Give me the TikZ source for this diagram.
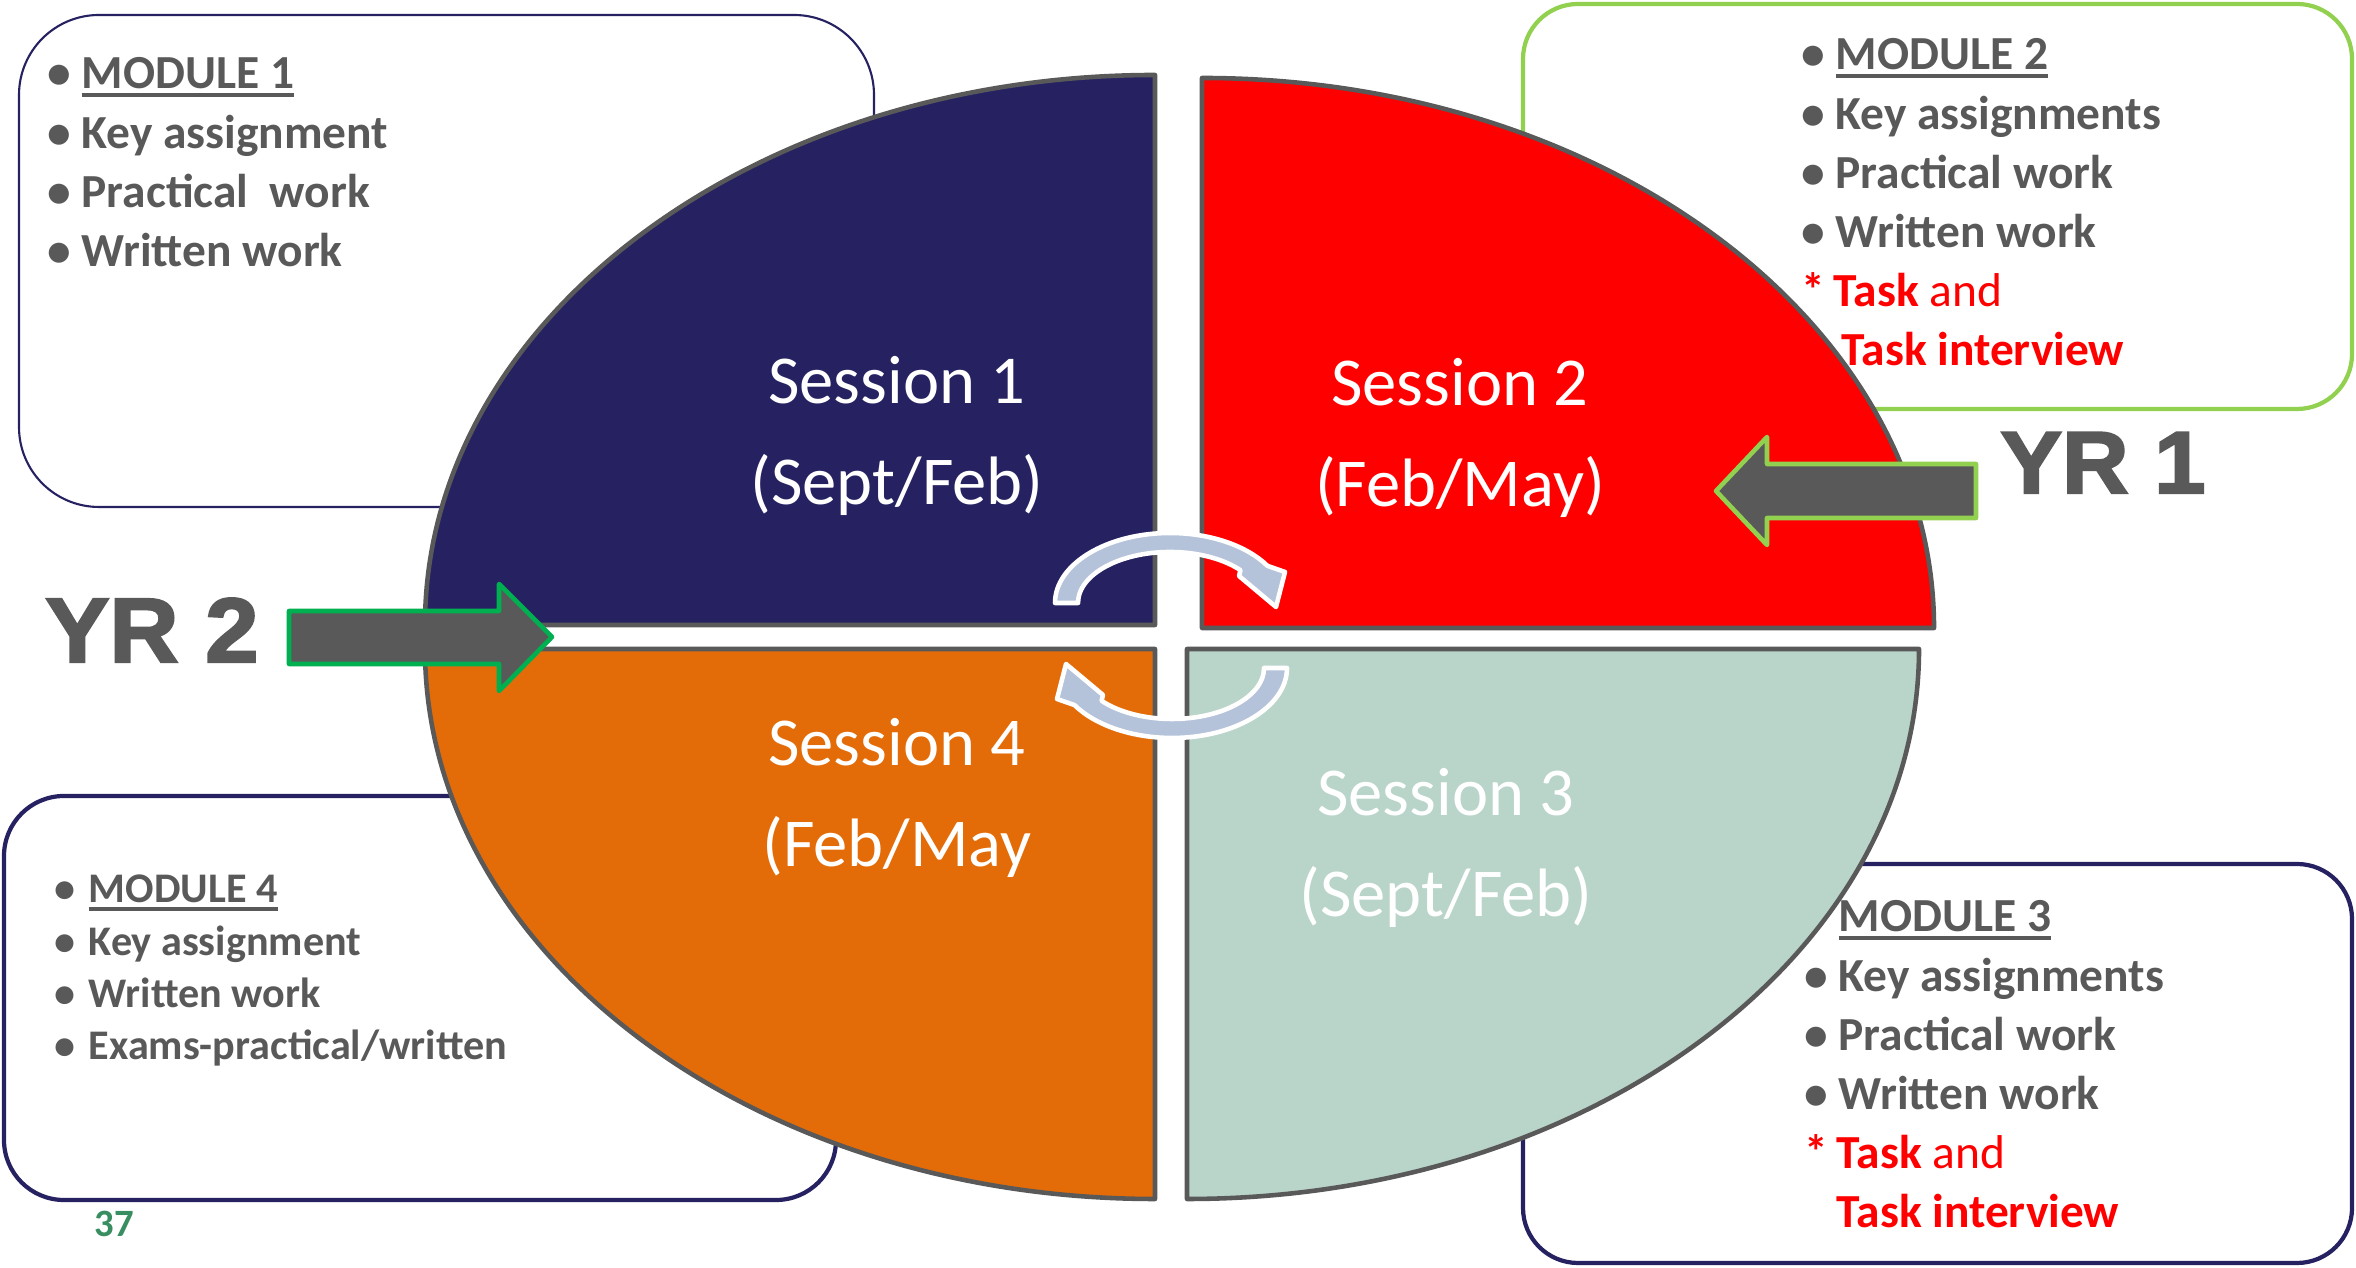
\documentclass[tikz,border=0pt]{standalone}
\usepackage{fontspec}
\setmainfont{Carlito}
\newfontfamily\yrfont[FakeStretch=1.05,BoldFeatures={FakeBold=2.5}]{Liberation Sans}

\definecolor{navy}{RGB}{38,34,98}
\definecolor{slategrey}{RGB}{89,89,89}
\definecolor{sessorange}{RGB}{227,108,9}
\definecolor{sessmint}{RGB}{185,212,201}
\definecolor{leafgreen}{RGB}{146,208,80}
\definecolor{yrtwogreen}{RGB}{0,176,80}
\definecolor{turnblue}{RGB}{180,194,218}
\definecolor{pagegreen}{RGB}{56,142,96}

\newcommand\bul{\makebox[0.34cm][l]{•}}
\newcommand\modline[1]{\setbox0\hbox{#1}\rlap{\rule[-2.3pt]{\wd0}{1.2pt}}\box0}

\begin{document}
\begin{tikzpicture}[
	quarter/.style={draw=slategrey,line width=1.3pt,line join=round},
	listtext/.style={anchor=base west,inner sep=0pt,text=slategrey,font=\bfseries\fontsize{13.5}{16.8}\selectfont},
	sesstext/.style={anchor=base,inner sep=0pt,text=white,font=\fontsize{19.5}{28.5}\selectfont},
	yrtext/.style={anchor=base,inner sep=0pt,text=slategrey,font=\yrfont\bfseries\fontsize{25}{30}\selectfont},
	blockarrow/.style={fill=slategrey,line width=1.3pt,line join=round},
	turnarrow/.style={fill=turnblue,draw=white,line width=1.3pt,line join=round}]
	\useasboundingbox (0,0) rectangle (23.56,12.68);
	% module boxes
	\draw[navy,line width=0.6pt,rounded corners=0.8cm] (0.19,7.61) rectangle (8.74,12.53);
	\draw[leafgreen,line width=1.2pt,rounded corners=0.55cm] (15.23,8.59) rectangle (23.52,12.64);
	\draw[navy,line width=1.2pt,rounded corners=0.55cm] (15.23,0.05) rectangle (23.52,4.04);
	\draw[navy,line width=1.2pt,rounded corners=0.6cm] (0.04,0.68) rectangle (8.36,4.72);
	% sessions
	\draw[quarter,fill=navy] (11.55,6.43) -- (4.25,6.43) arc[start angle=180,end angle=90,x radius=7.3,y radius=5.5] -- cycle;
	\draw[quarter,fill=red] (12.02,6.40) -- (12.02,11.90) arc[start angle=90,end angle=0,x radius=7.32,y radius=5.5] -- cycle;
	\draw[quarter,fill=sessorange] (11.55,6.19) -- (4.25,6.19) arc[start angle=180,end angle=270,x radius=7.3,y radius=5.5] -- cycle;
	\draw[quarter,fill=sessmint] (11.87,6.19) -- (19.19,6.19) arc[start angle=0,end angle=-90,x radius=7.32,y radius=5.5] -- cycle;
	% year arrows
	\draw[blockarrow,draw=yrtwogreen] (2.89,6.57) -- (4.99,6.57) -- (4.99,6.84) -- (5.52,6.31) -- (4.99,5.77) -- (4.99,6.04) -- (2.89,6.04) -- cycle;
	\draw[blockarrow,draw=leafgreen] (19.76,8.04) -- (17.67,8.04) -- (17.67,8.31) -- (17.16,7.77) -- (17.67,7.23) -- (17.67,7.50) -- (19.76,7.50) -- cycle;
	% turning arrows
	\foreach \r in {0,180}
		\draw[turnarrow,rotate around={\r:(11.71,6.325)}] (10.55,6.65) arc[start angle=180,end angle=32,x radius=1.15,y radius=0.70] -- (12.85,6.96) -- (12.76,6.61) -- (12.39,6.92) -- ({11.70+0.92*cos(40)},{6.65+0.51*sin(40)}) arc[start angle=40,end angle=180,x radius=0.92,y radius=0.51] -- cycle;
	% session labels
	\node[sesstext] (s1) at (8.97,8.64) {\begin{tabular}[t]{@{}c@{}}Session 1\\(Sept/Feb)\end{tabular}};
	\node[sesstext] (s2) at (14.60,8.62) {\begin{tabular}[t]{@{}c@{}}Session 2\\(Feb/May)\end{tabular}};
	\node[sesstext] (s3) at (14.46,4.52) {\begin{tabular}[t]{@{}c@{}}Session 3\\(Sept/Feb)\end{tabular}};
	\node[sesstext] (s4) at (8.97,5.02) {\begin{tabular}[t]{@{}c@{}}Session 4\\(Feb/May\end{tabular}};
	% module lists
	\node[listtext] (m1) at (0.47,11.79) {\begin{tabular}[t]{@{}l@{}}
		\bul\modline{MODULE 1}\\
		\bul Key assignment\\
		\bul Practical\ \ work\\
		\bul Written work\end{tabular}};
	\node[listtext] (m2) at (18.01,11.98) {\begin{tabular}[t]{@{}l@{}}
		\bul\modline{MODULE 2}\\
		\bul Key assignments\\
		\bul Practical work\\
		\bul Written work\\
		\color{red}\makebox[0.32cm][l]{*}Task {\mdseries and}\\
		\color{red}\hspace*{0.40cm}Task interview\end{tabular}};
	\node[listtext] (m3) at (18.04,3.36) {\begin{tabular}[t]{@{}l@{}}
		\hspace*{0.34cm}\modline{MODULE 3}\\
		\bul Key assignments\\
		\bul Practical work\\
		\bul Written work\\
		\color{red}\makebox[0.32cm][l]{*}Task {\mdseries and}\\
		\color{red}\hspace*{0.32cm}Task interview\end{tabular}};
	\node[listtext,font=\bfseries\fontsize{12}{14.8}\selectfont] (m4) at (0.54,3.65) {\begin{tabular}[t]{@{}l@{}}
		\bul\modline{MODULE 4}\\
		\bul Key assignment\\
		\bul Written work\\
		\bul Exams-practical/written\end{tabular}};
	% year labels
	\node[yrtext] (yr1) at (21.03,7.75) {YR 1};
	\node[yrtext,font=\yrfont\bfseries\fontsize{26}{31}\selectfont] (yr2) at (1.52,6.06) {YR 2};
	\node[anchor=base,inner sep=0pt,text=pagegreen,font=\bfseries\fontsize{11}{13}\selectfont] (pg) at (1.14,0.31) {37};
\end{tikzpicture}
\end{document}
